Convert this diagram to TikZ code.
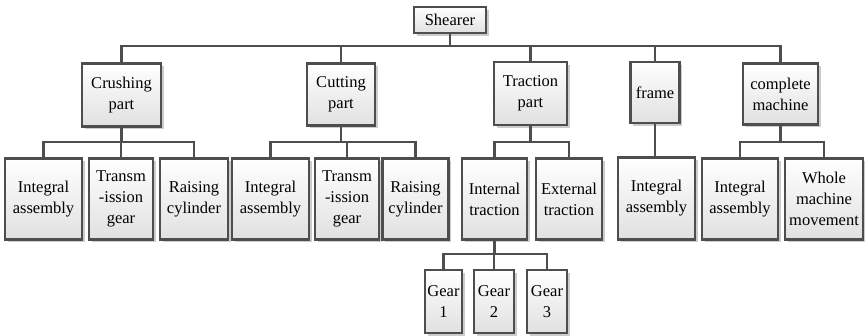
\documentclass[tikz,border=0pt]{standalone}
\usepackage{fontspec}
\setmainfont{Liberation Serif}
\usetikzlibrary{shadows}
\definecolor{edge}{HTML}{4E4E4E}
\tikzset{
  part/.style={draw=edge, line width=2.3pt, rectangle, align=center, inner sep=1pt,
    top color=white, bottom color=gray!24,
    drop shadow={shadow xshift=2.5pt, shadow yshift=-2.5pt, fill=black, opacity=0.2},
    font=\fontsize{16.5}{21}\selectfont},
  link/.style={draw=edge, line width=2.3pt, line join=miter}
}
\begin{document}
\begin{tikzpicture}[x=1pt, y=-1pt]
\useasboundingbox (0,0) rectangle (865,335);

% root
\node[part, minimum width=72pt, minimum height=26pt] (root) at (450,20) {Shearer};

% main parts
\node[part, minimum width=79pt, minimum height=63pt] (crush) at (121.5,95) {Crushing\\part};
\node[part, minimum width=68pt, minimum height=62pt] (cut) at (341,94.5) {Cutting\\part};
\node[part, minimum width=73pt, minimum height=63pt] (trac) at (530.5,93.5) {Traction\\part};
\node[part, minimum width=49pt, minimum height=61pt] (frame) at (655,92.5) {frame};
\node[part, minimum width=75pt, minimum height=61pt] (whole) at (780.5,94) {complete\\machine};

% components
\node[part, minimum width=77pt, minimum height=81pt] (a1) at (43.5,199) {Integral\\assembly};
\node[part, minimum width=64pt, minimum height=81pt] (a2) at (121,199) {Transm\\-ission\\gear};
\node[part, minimum width=68pt, minimum height=81pt] (a3) at (194,199) {Raising\\cylinder};
\node[part, minimum width=77pt, minimum height=81pt] (b1) at (270.5,199) {Integral\\assembly};
\node[part, minimum width=64pt, minimum height=81pt] (b2) at (347,199) {Transm\\-ission\\gear};
\node[part, minimum width=66pt, minimum height=81pt] (b3) at (415.5,199) {Raising\\cylinder};
\node[part, minimum width=65pt, minimum height=81pt] (c1) at (494.5,199) {Internal\\traction};
\node[part, minimum width=66pt, minimum height=81pt] (c2) at (569,199) {External\\traction};
\node[part, minimum width=77pt, minimum height=82pt] (d1) at (656.5,198.5) {Integral\\assembly};
\node[part, minimum width=76pt, minimum height=81pt] (e1) at (740,199) {Integral\\assembly};
\node[part, minimum width=78pt, minimum height=81pt] (e2) at (824,199) {Whole\\machine\\movement};

% gears
\node[part, minimum width=37pt, minimum height=63pt] (g1) at (443.5,301.5) {Gear\\1};
\node[part, minimum width=40pt, minimum height=63pt] (g2) at (494,301.5) {Gear\\2};
\node[part, minimum width=40pt, minimum height=63pt] (g3) at (547,301.5) {Gear\\3};

% bus levels
\coordinate (bus0) at (0,46);
\coordinate (bus1) at (0,142);
\coordinate (bus2) at (0,254);

\foreach \c in {crush,cut,trac,frame,whole}
  \draw[link] (root.south) -- (root.south |- bus0) -| (\c.north);
\foreach \c in {a1,a2,a3}
  \draw[link] (crush.south) -- (crush.south |- bus1) -| (\c.north);
\foreach \c in {b1,b2,b3}
  \draw[link] (cut.south) -- (cut.south |- bus1) -| (\c.north);
\foreach \c in {c1,c2}
  \draw[link] (trac.south) -- (trac.south |- bus1) -| (\c.north);
\draw[link] (frame.south) -- (d1.north -| frame.south);
\foreach \c in {e1,e2}
  \draw[link] (whole.south) -- (whole.south |- bus1) -| (\c.north);
\foreach \c in {g1,g2,g3}
  \draw[link] (c1.south) -- (c1.south |- bus2) -| (\c.north);
\end{tikzpicture}
\end{document}
